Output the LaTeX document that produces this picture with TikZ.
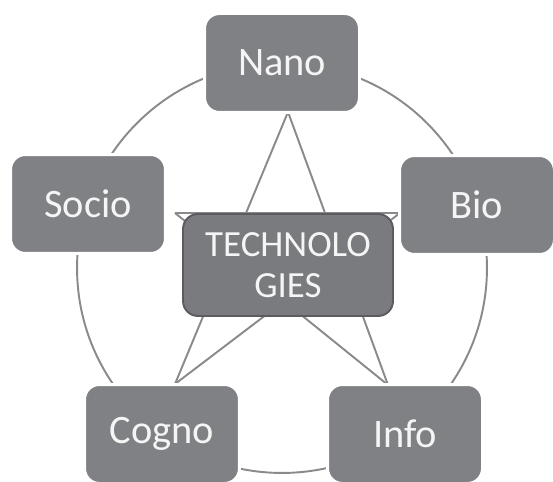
\documentclass[tikz,border=0pt]{standalone}
\usepackage{fontspec}
\setmainfont{Carlito}
\definecolor{boxgray}{RGB}{128,129,133}
\definecolor{hubgray}{RGB}{122,123,127}
\definecolor{rimgray}{RGB}{92,92,95}
\definecolor{linegray}{RGB}{138,138,141}
\definecolor{textwhite}{RGB}{245,245,245}
\begin{document}
\begin{tikzpicture}[x=0.02cm,y=-0.02cm,
  techbox/.style={fill=boxgray, draw=white, line width=1.7pt, rounded corners=8.5pt,
    minimum width=3.1cm, minimum height=1.98cm, text=textwhite,
    font=\fontsize{23}{27}\selectfont},
  hubbox/.style={fill=hubgray, draw=rimgray, line width=1.1pt, rounded corners=8.5pt,
    minimum width=4.2cm, minimum height=2.04cm, text=textwhite, align=center,
    font=\fontsize{21}{23}\selectfont},
  ring/.style={draw=linegray, line width=1.1pt}]
\useasboundingbox (0,0) rectangle (553,482);

% ring and star behind the boxes
\coordinate (ringc) at (282,268);
\draw[ring] (ringc) circle [radius=4.1cm];

\coordinate (tipT)  at (288,112);
\coordinate (tipL)  at (175,213);
\coordinate (tipR)  at (400,213);
\coordinate (tipBL) at (175,384);
\coordinate (tipBR) at (388,385);
\draw[ring] (tipT) -- (tipBL);
\draw[ring] (tipT) -- (tipBR);
\draw[ring] (tipL) -- (tipR);
\draw[ring] (tipL) -- (tipBR);
\draw[ring] (tipR) -- (tipBL);

% the five fields
\node[techbox] (nano)  at (282,63)  {Nano};
\node[techbox] (socio) at (88,204)  {Socio};
\node[techbox] (bio)   at (477,205) {Bio};
\node[techbox] (cogno) at (162,434) {Cogno};
\node[techbox] (info)  at (405,434) {Info};

% hub
\node[hubbox] (hub) at (288,265) {TECHNOLO\\GIES};

\end{tikzpicture}
\end{document}
